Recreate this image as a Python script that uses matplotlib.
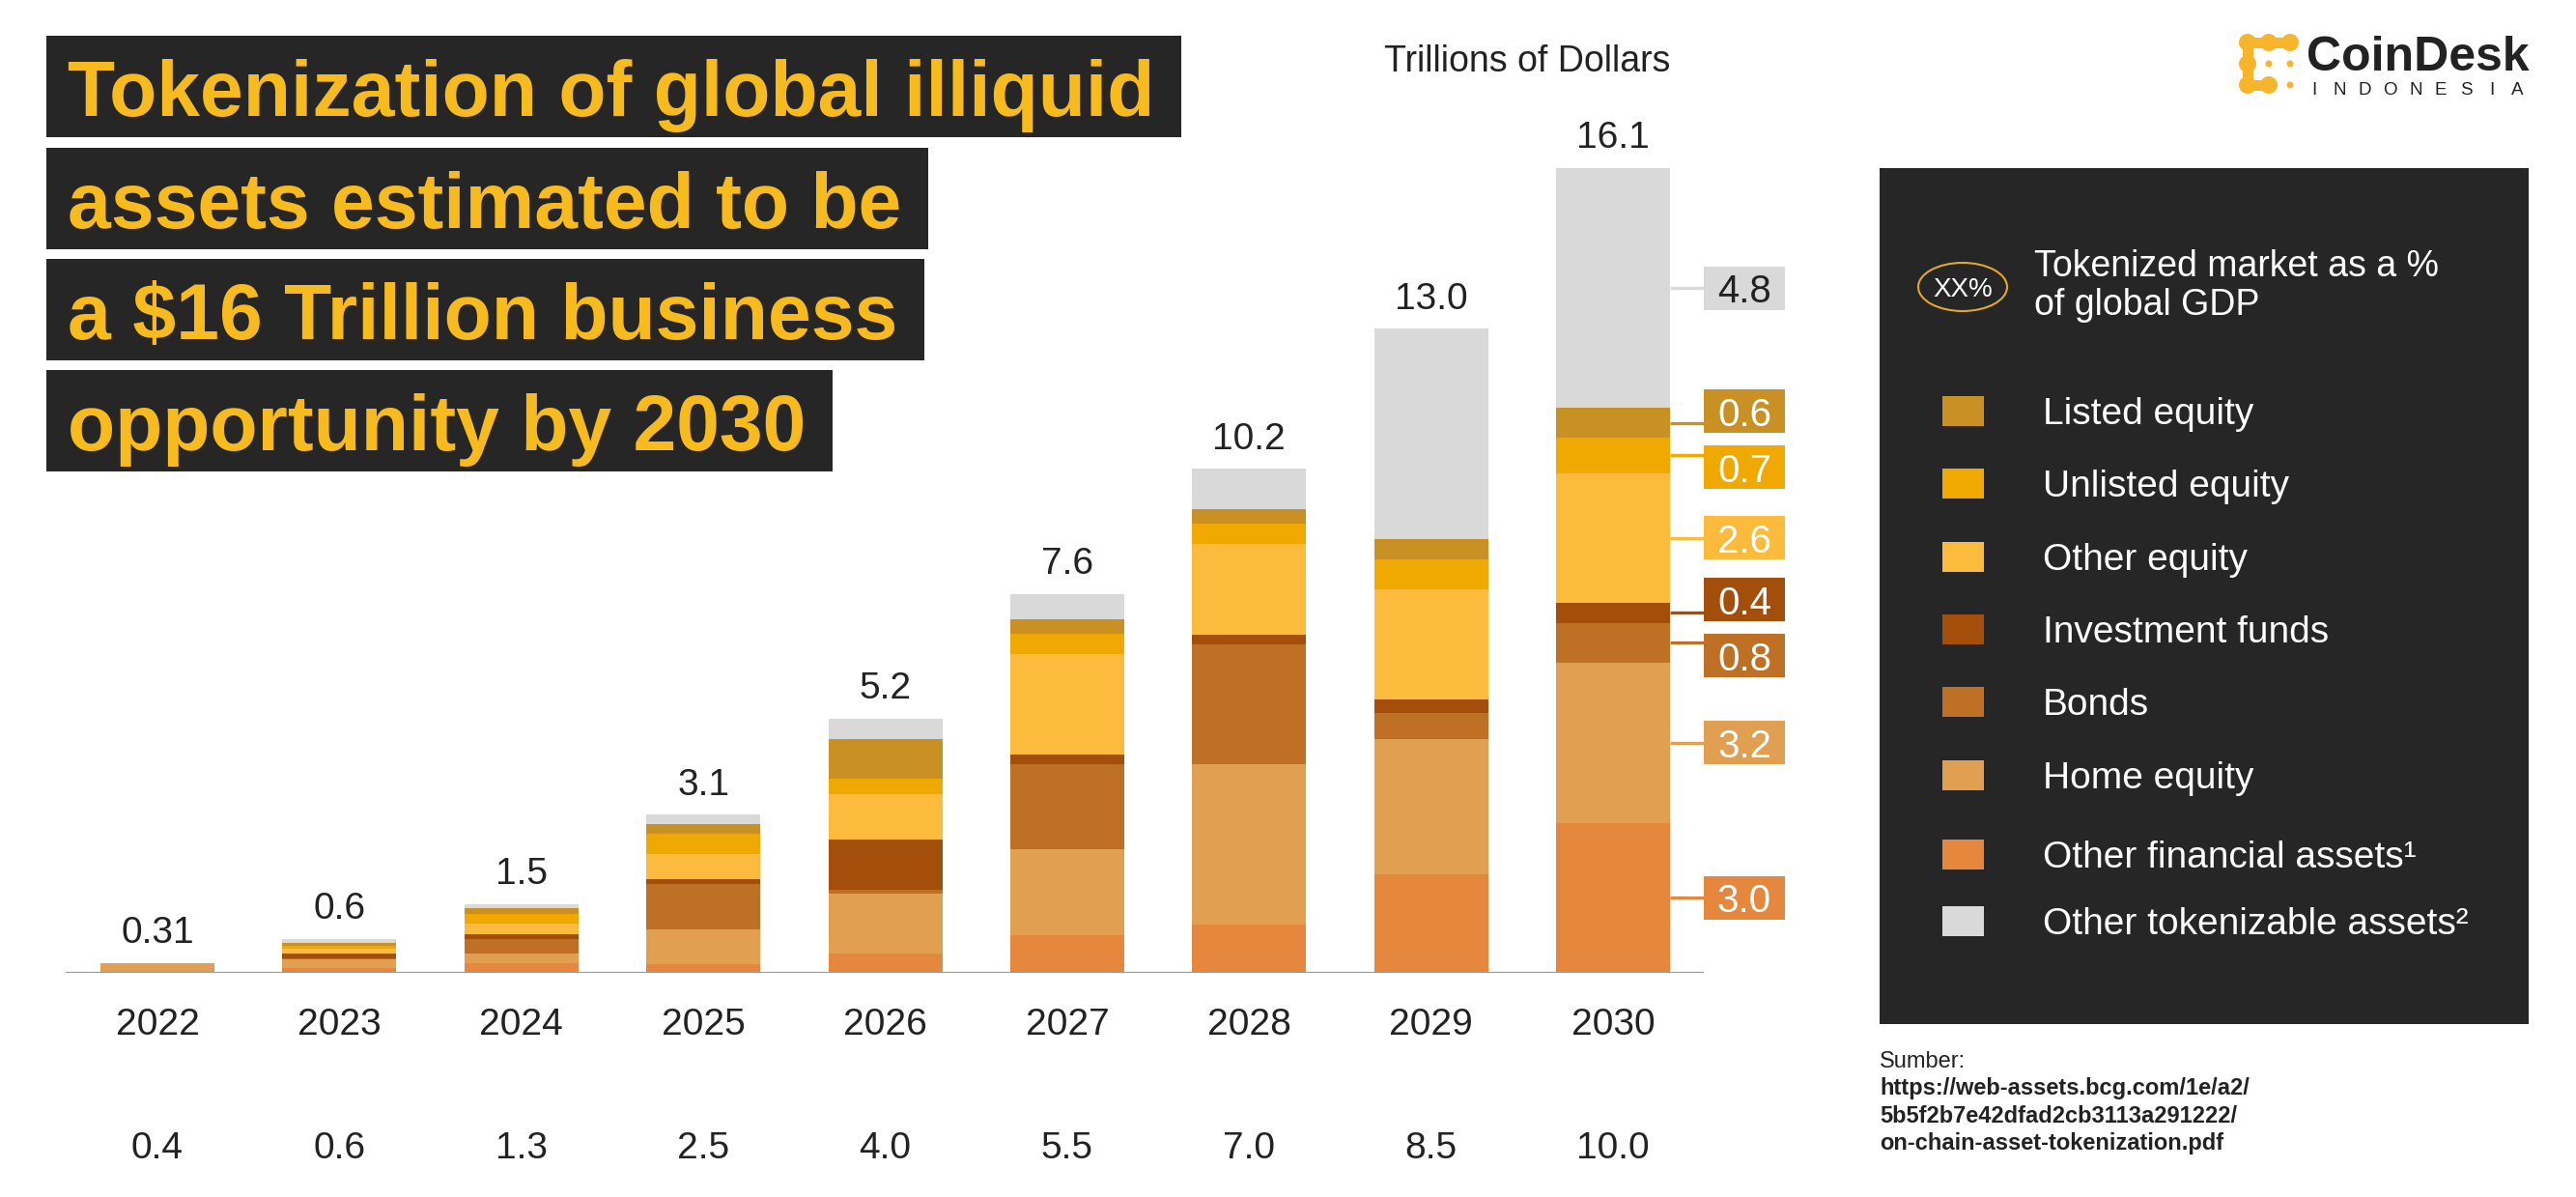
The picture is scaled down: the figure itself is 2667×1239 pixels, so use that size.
import numpy as np
import matplotlib.pyplot as plt
from matplotlib.patches import Rectangle, Ellipse, Circle

plt.rcParams['font.family'] = ['Liberation Sans', 'DejaVu Sans']

# ---- data (trillions of US$), stacked bottom -> top ----
years = ['2022', '2023', '2024', '2025', '2026', '2027', '2028', '2029', '2030']
totals = ['0.31', '0.6', '1.5', '3.1', '5.2', '7.6', '10.2', '13.0', '16.1']
gdp_share = ['0.4', '0.6', '1.3', '2.5', '4.0', '5.5', '7.0', '8.5', '10.0']

other_financial = [0.00, 0.09, 0.19, 0.17, 0.38, 0.75, 0.97, 1.97, 3.0]
home_equity     = [0.19, 0.18, 0.19, 0.70, 1.21, 1.73, 3.20, 2.71, 3.2]
bonds           = [0.00, 0.02, 0.30, 0.91, 0.08, 1.69, 2.40, 0.51, 0.8]
invest_funds    = [0.00, 0.10, 0.09, 0.10, 1.00, 0.19, 0.19, 0.28, 0.4]
other_equity    = [0.00, 0.10, 0.21, 0.50, 0.91, 2.02, 1.82, 2.20, 2.6]
unlisted_equity = [0.00, 0.05, 0.19, 0.40, 0.30, 0.40, 0.40, 0.61, 0.7]
listed_equity   = [0.00, 0.05, 0.12, 0.19, 0.79, 0.29, 0.29, 0.39, 0.6]
other_tokenizable = [0.00, 0.09, 0.09, 0.19, 0.42, 0.50, 0.81, 4.21, 4.8]

series = [other_financial, home_equity, bonds, invest_funds,
          other_equity, unlisted_equity, listed_equity, other_tokenizable]
names = ['Other financial assets¹', 'Home equity', 'Bonds', 'Investment funds',
         'Other equity', 'Unlisted equity', 'Listed equity', 'Other tokenizable assets²']
colors = ['#E5873C', '#E19F51', '#BE7025', '#A34F0B',
          '#FDBB3D', '#F0A900', '#C99123', '#D9D9D9']
legend_order = [6, 5, 4, 3, 2, 1, 0, 7]

title_lines = ['Tokenization of global illiquid', 'assets estimated to be',
               'a $16 Trillion business', 'opportunity by 2030']

DARK = '#262626'
YELLOW = '#F7BB1E'
INK = '#222222'

W, H = 2667, 1239
fig = plt.figure(figsize=(W / 100, H / 100), dpi=100)

# background axes in pixel units (y downwards)
bg = fig.add_axes([0, 0, 1, 1])
bg.set_xlim(0, W)
bg.set_ylim(H, 0)
bg.axis('off')

# ---- bar chart ----
base_px, top_px, px_per_unit = 1007, 100, 51.75
ax = fig.add_axes([68 / W, (H - base_px) / H, (1764 - 68) / W, (base_px - top_px) / H])
ax.patch.set_alpha(0)
x = np.arange(len(years))
bw = 0.626
bottom = np.zeros(len(years))
for vals, col in zip(series, colors):
    ax.bar(x, vals, width=bw, bottom=bottom, color=col, linewidth=0)
    bottom += np.array(vals)

ax.set_xlim(-0.504, 8.498)
ax.set_ylim(0, (base_px - top_px) / px_per_unit)
for s in ax.spines.values():
    s.set_visible(False)
ax.set_yticks([])
ax.set_xticks(x, years, fontsize=28, color=INK)
ax.tick_params(axis='x', length=0, pad=26)
ax.axhline(0, color='#9B9B9B', lw=1.6)

for i in range(len(years)):
    ax.annotate(totals[i], (x[i], bottom[i]), xytext=(0, 15), textcoords='offset points',
                ha='center', va='baseline', fontsize=28, color=INK)
    ax.annotate(gdp_share[i], (x[i], 0), xytext=(0, -138), textcoords='offset points',
                ha='center', va='baseline', fontsize=28, color=INK)

# value call-outs for the last bar
last = len(years) - 1
vals_last = np.array([s[last] for s in series])
tops = np.cumsum(vals_last)
mids = tops - vals_last / 2
label_y = mids.copy()
gap = 1.12
for _ in range(60):
    for k in range(len(label_y) - 1):
        d = label_y[k + 1] - label_y[k]
        if d < gap:
            label_y[k] -= (gap - d) / 2
            label_y[k + 1] += (gap - d) / 2

box_x0, box_w, box_h = 8.498, 0.446, 0.87
for v, m, ly, col in zip(vals_last, mids, label_y, colors):
    ax.plot([x[last] + bw / 2, box_x0], [m, m], color=col, lw=2.4, clip_on=False,
            solid_capstyle='butt')
    ax.add_patch(Rectangle((box_x0, ly - box_h / 2), box_w, box_h, color=col,
                           lw=0, clip_on=False))
    ax.text(box_x0 + box_w / 2, ly, f'{v:.1f}', ha='center', va='center_baseline',
            fontsize=29, color=INK if col == '#D9D9D9' else 'white', clip_on=False)

bg.text(1581, 60, 'Trillions of Dollars', ha='center', va='center_baseline',
        fontsize=27, color=INK)

# ---- title blocks ----
renderer = fig.canvas.get_renderer()
box_tops = [37, 153, 268, 383]
for line, top in zip(title_lines, box_tops):
    t = bg.text(70, top + 83, line, fontsize=58, fontweight='bold', color=YELLOW,
                va='baseline', ha='left', zorder=3)
    ext = t.get_window_extent(renderer=renderer)
    bg.add_patch(Rectangle((48, top), ext.x1 - 48 + 28, 105, color=DARK, lw=0, zorder=2))

# ---- legend panel ----
bg.add_patch(Rectangle((1946, 174), 2618 - 1946, 1060 - 174, color=DARK, lw=0, zorder=1))
bg.add_patch(Ellipse((2032, 297), 92, 50, facecolor='none', edgecolor='#E0A82E',
                     lw=1.5, zorder=2))
bg.text(2032, 297, 'XX%', ha='center', va='center_baseline', fontsize=20,
        color='white', zorder=3)
bg.text(2106, 286, 'Tokenized market as a %', fontsize=27, color='white',
        va='baseline', zorder=3)
bg.text(2106, 326, 'of global GDP', fontsize=27, color='white', va='baseline', zorder=3)

legend_y = [425, 500, 576, 651, 726, 802, 884, 953]
for idx, ly in zip(legend_order, legend_y):
    bg.add_patch(Rectangle((2011, ly - 15.5), 43, 31, color=colors[idx], lw=0, zorder=2))
    bg.text(2115, ly, names[idx], fontsize=28, color='white', va='center_baseline',
            zorder=3)

# ---- source ----
bg.text(1946, 1105, 'Sumber:', fontsize=17, color=INK, va='baseline')
src = ['https://web-assets.bcg.com/1e/a2/', '5b5f2b7e42dfad2cb3113a291222/',
       'on-chain-asset-tokenization.pdf']
for j, s in enumerate(src):
    bg.text(1946, 1133 + j * 28.5, s, fontsize=17, fontweight='bold', color=INK,
            va='baseline')

# ---- logo ----
LOGO = '#F7B52B'
for cx, cy in [(2327, 44), (2349, 44), (2371, 44), (2327, 66), (2327, 88), (2349, 88)]:
    bg.add_patch(Circle((cx, cy), 9, color=LOGO, lw=0))
bg.add_patch(Rectangle((2327, 38.5), 44, 11, color=LOGO, lw=0))
bg.add_patch(Rectangle((2321.5, 44), 11, 44, color=LOGO, lw=0))
bg.add_patch(Rectangle((2327, 82.5), 22, 11, color=LOGO, lw=0))
for cx, cy in [(2349, 66), (2371, 66), (2371, 88)]:
    bg.add_patch(Circle((cx, cy), 3.5, color=LOGO, lw=0))
bg.text(2388, 73, 'CoinDesk', fontsize=36, fontweight='bold', color=INK, va='baseline')
for lx, ch in zip(np.linspace(2396, 2606, 9), 'INDONESIA'):
    bg.text(lx, 98, ch, fontsize=13.5, color=INK, ha='center', va='baseline')

fig.savefig('out.png', dpi=100)
